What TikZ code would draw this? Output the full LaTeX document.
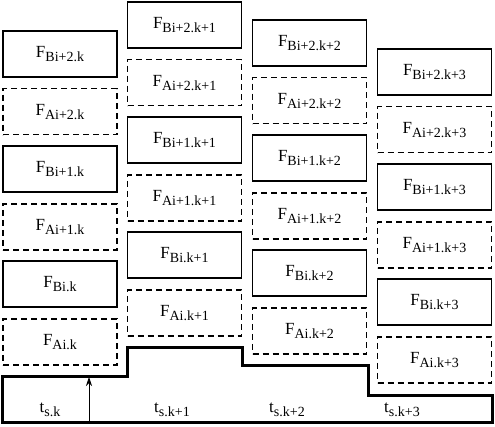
\documentclass[tikz,border=0pt]{standalone}
\usepackage{fontspec}
\setmainfont{Liberation Serif}
\usepackage{tikz}
\usetikzlibrary{arrows.meta,positioning}

\newcommand{\fsub}[1]{F\raisebox{-4pt}{\fontsize{14}{16}\selectfont #1}}
\newcommand{\tsub}[1]{t\raisebox{-4pt}{\fontsize{14}{16}\selectfont #1}}

\begin{document}
\begin{tikzpicture}[x=1pt,y=1pt,>={Stealth[length=9pt,width=6pt]},node distance=57.6pt]
\tikzstyle{fb}=[draw,line width=1.8pt,minimum width=114pt,minimum height=46pt,inner sep=0pt,font=\fontsize{17}{20}\selectfont]
\tikzstyle{fa}=[fb,dash pattern=on 6pt off 4pt]
\tikzstyle{lbl}=[inner sep=0pt,font=\fontsize{17}{20}\selectfont]
\useasboundingbox (0,0) rectangle (495,427);
% column k
\node[fa] (a0k) at (60,85) {\fsub{Ai.k}};
\node[fb,above of=a0k] (b0k) {\fsub{Bi.k}};
\node[fa,above of=b0k] (a1k) {\fsub{Ai+1.k}};
\node[fb,above of=a1k] (b1k) {\fsub{Bi+1.k}};
\node[fa,above of=b1k] (a2k) {\fsub{Ai+2.k}};
\node[fb,above of=a2k] (b2k) {\fsub{Bi+2.k}};
% column k+1
\node[fa] (a0k1) at (184.5,114) {\fsub{Ai.k+1}};
\node[fb,above of=a0k1] (b0k1) {\fsub{Bi.k+1}};
\node[fa,above of=b0k1] (a1k1) {\fsub{Ai+1.k+1}};
\node[fb,above of=a1k1] (b1k1) {\fsub{Bi+1.k+1}};
\node[fa,above of=b1k1] (a2k1) {\fsub{Ai+2.k+1}};
\node[fb,above of=a2k1] (b2k1) {\fsub{Bi+2.k+1}};
% column k+2
\node[fa] (a0k2) at (309.5,96) {\fsub{Ai.k+2}};
\node[fb,above of=a0k2] (b0k2) {\fsub{Bi.k+2}};
\node[fa,above of=b0k2] (a1k2) {\fsub{Ai+1.k+2}};
\node[fb,above of=a1k2] (b1k2) {\fsub{Bi+1.k+2}};
\node[fa,above of=b1k2] (a2k2) {\fsub{Ai+2.k+2}};
\node[fb,above of=a2k2] (b2k2) {\fsub{Bi+2.k+2}};
% column k+3
\node[fa] (a0k3) at (434.5,67) {\fsub{Ai.k+3}};
\node[fb,above of=a0k3] (b0k3) {\fsub{Bi.k+3}};
\node[fa,above of=b0k3] (a1k3) {\fsub{Ai+1.k+3}};
\node[fb,above of=a1k3] (b1k3) {\fsub{Bi+1.k+3}};
\node[fa,above of=b1k3] (a2k3) {\fsub{Ai+2.k+3}};
\node[fb,above of=a2k3] (b2k3) {\fsub{Bi+2.k+3}};
% time slots
\draw[line width=3pt,line join=miter] (2,4) -- (2,50) -- (127,50) -- (127,79) -- (242,79) -- (242,61)
  -- (368,61) -- (368,31) -- (492,31) -- (492,4) -- cycle;
\node[lbl] (t0) at (50,17) {\tsub{s.k}};
\node[lbl] (t1) at (172,17) {\tsub{s.k+1}};
\node[lbl] (t2) at (287,17) {\tsub{s.k+2}};
\node[lbl] (t3) at (402,17) {\tsub{s.k+3}};
\coordinate (ab) at (89,4);
\coordinate (at) at (89,50);
\draw[->,line width=0.8pt] (ab) -- (at);
\end{tikzpicture}
\end{document}
